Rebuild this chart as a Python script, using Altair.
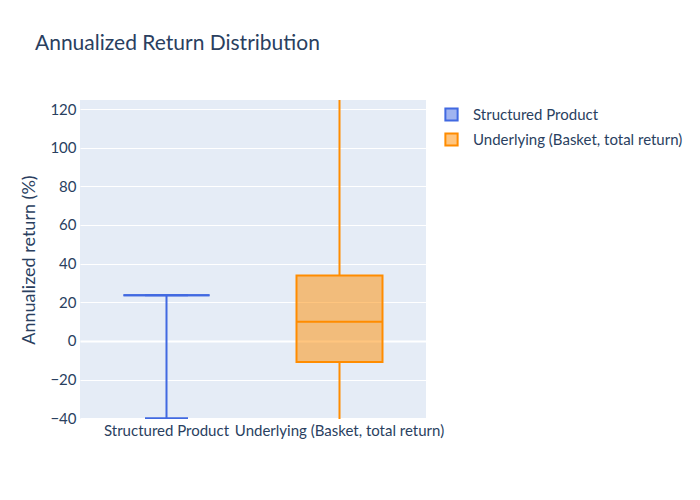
import altair as alt
import pandas as pd

series = ["Structured Product", "Underlying (Basket, total return)"]
q1 = [23.6, -10.9]
median = [23.6, 10.0]
q3 = [23.6, 33.9]
lower = [-40.0, -60.0]
upper = [23.6, 180.0]
line_colors = ["#4169E1", "#FF8C00"]
fill_colors = ["rgba(65,105,225,0.5)", "rgba(255,140,0,0.5)"]
y_ticks = [-40, -20, 0, 20, 40, 60, 80, 100, 120]
y_range = [-40.36, 124.66]

df = pd.DataFrame({
    "series": series,
    "q1": q1,
    "median": median,
    "q3": q3,
    "lower": lower,
    "upper": upper,
})

txt = "#2a3f5f"
font = "Lato"

sscale = alt.Scale(domain=series, range=line_colors)
fscale = alt.Scale(domain=series, range=fill_colors)
leg = alt.Legend(
    title=None, orient="none", legendX=364, legendY=7,
    symbolType="square", symbolSize=150, symbolStrokeWidth=2,
    labelFontSize=15, labelColor=txt, labelFont=font, labelOffset=14,
    rowPadding=4, labelLimit=0,
)

x = alt.X(
    "series:N", sort=series,
    scale=alt.Scale(paddingInner=0, paddingOuter=0),
    axis=alt.Axis(title=None, labelAngle=0, ticks=False, domain=False,
                  labelFontSize=15, labelPadding=4, labelLimit=0,
                  labelOverlap=False, grid=False, labelColor=txt, labelFont=font),
)
yscale = alt.Scale(domain=y_range, nice=False, zero=False)
yaxis = alt.Axis(
    title="Annualized return (%)", values=y_ticks, ticks=False, domain=False,
    labelFontSize=15, labelColor=txt, labelFont=font, labelPadding=4,
    labelOverlap=False, tickCount=9,
    titleFontSize=18, titleFontWeight="normal", titleColor=txt, titleFont=font,
    titlePadding=11, gridColor="white",
    gridWidth={"condition": {"test": "datum.value === 0", "value": 2}, "value": 1},
)

base = alt.Chart(df)

whisker_lo = base.mark_rule(strokeWidth=2, clip=True).encode(
    x=x,
    y=alt.Y("lower:Q", scale=yscale, axis=yaxis),
    y2="q1:Q",
    stroke=alt.Stroke("series:N", scale=sscale, legend=leg),
)
whisker_hi = base.mark_rule(strokeWidth=2, clip=True).encode(
    x=x,
    y=alt.Y("q3:Q"),
    y2="upper:Q",
    stroke=alt.Stroke("series:N", scale=sscale, legend=leg),
)
cap_lo = base.mark_bar(filled=False, strokeWidth=2, width=43, clip=True).encode(
    x=x, y=alt.Y("lower:Q"), y2="lower:Q",
    stroke=alt.Stroke("series:N", scale=sscale, legend=leg),
)
cap_hi = base.mark_bar(filled=False, strokeWidth=2, width=43, clip=True).encode(
    x=x, y=alt.Y("upper:Q"), y2="upper:Q",
    stroke=alt.Stroke("series:N", scale=sscale, legend=leg),
)
box = base.mark_bar(strokeWidth=2, width=86, clip=True).encode(
    x=x,
    y=alt.Y("q1:Q"),
    y2="q3:Q",
    fill=alt.Fill("series:N", scale=fscale, legend=leg),
    stroke=alt.Stroke("series:N", scale=sscale, legend=leg),
)
med = base.mark_bar(filled=False, strokeWidth=2, width=86, clip=True).encode(
    x=x, y=alt.Y("median:Q"), y2="median:Q",
    stroke=alt.Stroke("series:N", scale=sscale, legend=leg),
)

chart = alt.layer(whisker_lo, whisker_hi, cap_lo, cap_hi, box, med).properties(
    width=346, height=319,
    autosize=alt.AutoSizeParams(type="none"),
    padding={"left": 72, "top": 92, "right": 266, "bottom": 73},
    title=alt.TitleParams(
        "Annualized Return Distribution", anchor="start", frame="group",
        dx=-45, offset=46,
        fontSize=21, fontWeight="normal", color=txt, font=font,
    ),
    background="white",
).configure_view(fill="#E5ECF6", stroke=None)

chart.save("out.html", embed_options={"renderer": "svg", "actions": False})
